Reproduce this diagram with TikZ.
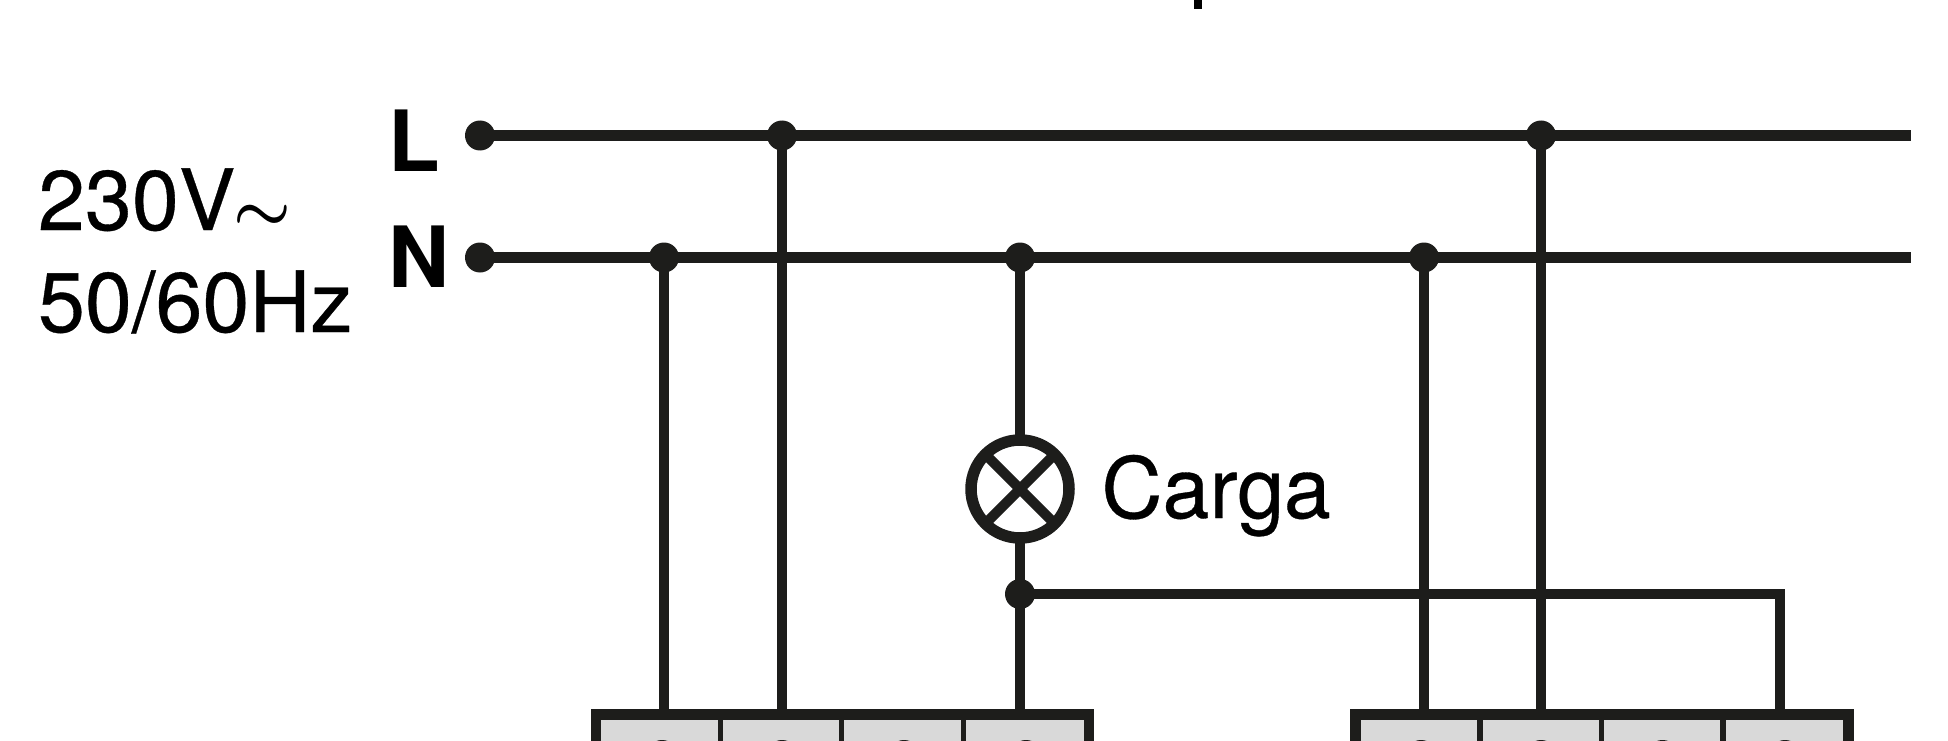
\documentclass[tikz,border=0pt]{standalone}
\usepackage{graphicx}
\usepackage{fontspec}
\setmainfont{TeX Gyre Heros}
\newfontfamily\labelfont[FakeBold=0.4]{TeX Gyre Heros}
\definecolor{ink}{HTML}{1D1D1B}
\definecolor{cellgray}{HTML}{D9D9D9}
\tikzset{
  wire/.style={draw=ink,line width=10.5pt},
  junction/.style={circle,fill=ink,draw=none,minimum size=30pt,inner sep=0pt,outer sep=0pt},
  lamp/.style={circle,draw=ink,line width=11.5pt,fill=white,minimum size=98pt,inner sep=0pt,outer sep=0pt},
  lamparm/.style={draw=ink,line width=10pt},
  label/.style={inner sep=0pt,outer sep=0pt,anchor=base west,text=black,font=\fontsize{84.5}{84.5}\labelfont},
  boldlabel/.style={label,font=\fontsize{84.5}{84.5}\selectfont\bfseries},
  bodybox/.style={rectangle,draw=none,fill=ink,inner sep=0pt,outer sep=0pt,anchor=north west},
  cell/.style={rectangle,draw=none,fill=cellgray,inner sep=0pt,outer sep=0pt,anchor=north west},
  terminal/.style={circle,fill=ink,draw=none,minimum size=34pt,inner sep=0pt,outer sep=0pt,anchor=north},
  tick/.style={rectangle,fill=black,draw=none,inner sep=0pt,outer sep=0pt,minimum width=7.5pt,minimum height=9pt,anchor=north}
}
\begin{document}
\begin{tikzpicture}[x=1pt,y=-1pt]
\useasboundingbox (0,0) rectangle (1948,741);
\clip (0,0) rectangle (1948,741);
% terminal bodies
\node[bodybox,minimum width=503.3pt,minimum height=60pt] (b1) at (591,709.3) {};
\node[bodybox,minimum width=504pt,minimum height=60pt] (b2) at (1350,709.3) {};
\foreach \n/\xa/\xb in {a/601/717.7,b/722.7/839,c/844.3/960.7,d/966/1084}{
  \pgfmathsetmacro{\w}{\xb-\xa}
  \node[cell,minimum width=\w pt,minimum height=40pt] (c1\n) at (\xa,720) {};
}
\foreach \n/\xa/\xb in {a/1361/1477,b/1482.5/1598.5,c/1604/1720,d/1725.5/1843}{
  \pgfmathsetmacro{\w}{\xb-\xa}
  \node[cell,minimum width=\w pt,minimum height=40pt] (c2\n) at (\xa,720) {};
}
\foreach \nm/\x in {t1/662,t2/782,t3/904,t4/1026,t5/1421,t6/1541,t7/1662.5,t8/1785}{
  \node[terminal] (\nm) at (\x,740) {};
}
% connector ends on the bodies
\coordinate (e1) at (664,710);
\coordinate (e2) at (782,710);
\coordinate (e3) at (1020,710);
\coordinate (e4) at (1424,710);
\coordinate (e5) at (1541,710);
\coordinate (e6) at (1780,710);
\coordinate (lend) at (1911,135.5);
\coordinate (nend) at (1911,257.5);
\coordinate (corner) at (1780,594);
% junctions
\node[junction] (l0) at (480,135.5) {};
\node[junction] (n0) at (480,257.5) {};
\node[junction] (l1) at (782,135.5) {};
\node[junction] (l2) at (1541,135.5) {};
\node[junction] (n1) at (664,257.5) {};
\node[junction] (n2) at (1020,257.5) {};
\node[junction] (n3) at (1424,257.5) {};
\node[junction] (j) at (1020,594) {};
% wires
\draw[wire] (l0.center) -- (lend);
\draw[wire] (n0.center) -- (nend);
\draw[wire] (n1.center) -- (e1);
\draw[wire] (l1.center) -- (e2);
\draw[wire] (n3.center) -- (e4);
\draw[wire] (l2.center) -- (e5);
\draw[wire] (n2.center) -- (j.center);
\draw[wire] (j.center) -- (e3);
\draw[wire,line join=miter] (j.center) -- (corner) -- (e6);
% lamp
\node[lamp] (lmp) at (1020,489) {};
\draw[lamparm] (lmp.north east) -- (lmp.south west);
\draw[lamparm] (lmp.north west) -- (lmp.south east);
% texts
\node[label] (t230) at (38,230) {230V\kern-2pt\scalebox{2.6}{\boldmath$\sim$}};
\node[label] (t50) at (38,332) {50/60Hz};
\node[boldlabel] (tl) at (388,171) {L};
\node[boldlabel] (tn) at (388,287) {N};
\node[label] (carga) at (1101.5,518) {Carga};
\node[tick] (top) at (1198,0) {};
\end{tikzpicture}
\end{document}
